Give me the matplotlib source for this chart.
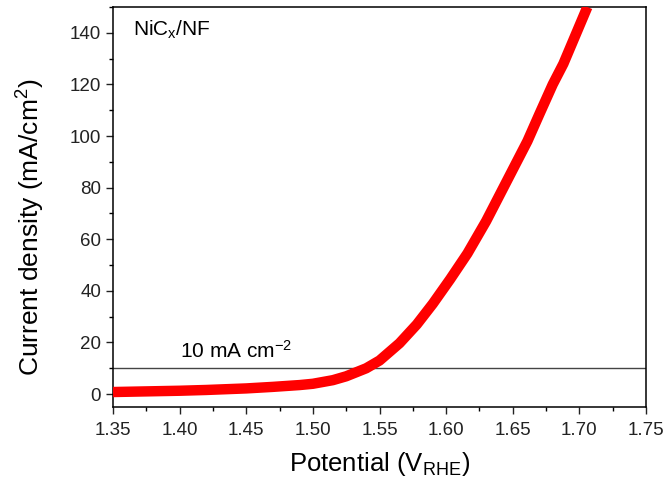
import matplotlib
matplotlib.use("Agg")
import matplotlib.pyplot as plt
from matplotlib.ticker import MultipleLocator

plt.rcParams['font.family'] = ['Liberation Sans', 'DejaVu Sans']
plt.rcParams['mathtext.fontset'] = 'custom'
plt.rcParams['mathtext.rm'] = 'Liberation Sans'
plt.rcParams['mathtext.it'] = 'Liberation Sans'

# potential (V vs RHE) and current density (mA/cm2)
potential = [1.350, 1.370, 1.400, 1.420, 1.450, 1.470, 1.490, 1.500, 1.515,
             1.525, 1.540, 1.550, 1.565, 1.578, 1.590, 1.603, 1.616, 1.630,
             1.646, 1.661, 1.670, 1.680, 1.688, 1.697, 1.706]
current = [0.8, 1.0, 1.3, 1.6, 2.2, 2.8, 3.5, 4.0, 5.4,
           6.9, 10.0, 13.0, 19.7, 27.0, 35.0, 44.5, 54.5, 67.0,
           83.0, 98.0, 108.5, 120.0, 128.0, 139.0, 150.0]

ref_current = 10
ref_label = '10 mA cm$^{-2}$'
sample = 'NiC$_\\mathregular{x}$/NF'

fig = plt.figure(figsize=(6.67, 4.90), dpi=100)
ax = fig.add_axes([113 / 667, 1 - 407 / 490, 533 / 667, 400 / 490])

ax.plot(potential, current, color='red', lw=7.5, solid_capstyle='butt', zorder=3)
ax.axhline(ref_current, color='#444444', lw=1.0, zorder=2)
ax.text(1.4005, 12.5, ref_label, fontsize=15, va='bottom', ha='left')
ax.text(0.037, 0.97, sample, transform=ax.transAxes, fontsize=15, va='top', ha='left')

ax.set_xlim(1.35, 1.75)
ax.set_ylim(-5, 150)
ax.xaxis.set_minor_locator(MultipleLocator(0.025))
ax.yaxis.set_major_locator(MultipleLocator(20))
ax.yaxis.set_minor_locator(MultipleLocator(10))
ax.set_xticks([1.35, 1.40, 1.45, 1.50, 1.55, 1.60, 1.65, 1.70, 1.75])
ax.set_xticklabels(['1.35', '1.40', '1.45', '1.50', '1.55', '1.60', '1.65', '1.70', '1.75'])
ax.tick_params(which='major', direction='out', length=5, width=1, labelsize=13.5, colors='#222222')
ax.tick_params(which='minor', direction='out', length=3, width=1)
ax.tick_params(axis='x', pad=6)
for s in ax.spines.values():
    s.set_linewidth(1.1)

ax.set_xlabel('Potential (V$_\\mathregular{RHE}$)', fontsize=18.5, labelpad=8)
ax.set_ylabel('Current density (mA/cm$^\\mathregular{2}$)', fontsize=19)
ax.yaxis.set_label_coords(-0.124, 0.45)

fig.savefig('out.png', dpi=100)
